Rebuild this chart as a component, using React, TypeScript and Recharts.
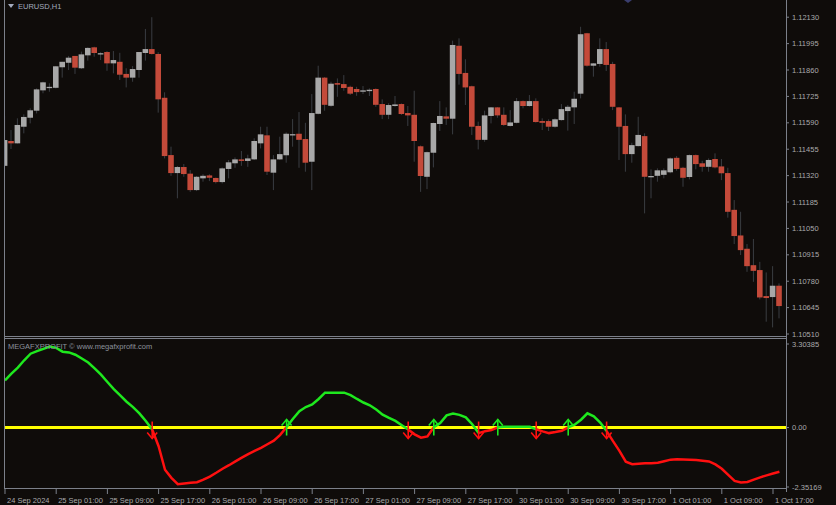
import React from "react";
import {Bar, ComposedChart, Line, ReferenceLine, Scatter, XAxis, YAxis} from "recharts";

// EURUSD H1 candles, 24 Sep 17:00 .. 1 Oct 18:00
const opens = [
    1.11370, 1.11497, 1.11485, 1.11570, 1.11616, 1.11652, 1.11756, 1.11771, 1.11769, 1.11874,
    1.11897, 1.11932, 1.11869, 1.11935, 1.11976, 1.11944, 1.11952, 1.11894, 1.11902, 1.11840,
    1.11821, 1.11860, 1.11947, 1.11967, 1.11942, 1.11718, 1.11425, 1.11333, 1.11364, 1.11330,
    1.11246, 1.11306, 1.11321, 1.11308, 1.11287, 1.11354, 1.11383, 1.11403, 1.11395, 1.11403,
    1.11485, 1.11526, 1.11335, 1.11403, 1.11424, 1.11529, 1.11534, 1.11507, 1.11391, 1.11636,
    1.11821, 1.11677, 1.11793, 1.11788, 1.11774, 1.11763, 1.11749, 1.11752, 1.11763, 1.11686,
    1.11631, 1.11676, 1.11686, 1.11640, 1.11631, 1.11470, 1.11314, 1.11437, 1.11584, 1.11623,
    1.11611, 1.11984, 1.11845, 1.11777, 1.11574, 1.11503, 1.11625, 1.11669, 1.11631, 1.11574,
    1.11590, 1.11701, 1.11676, 1.11701, 1.11599, 1.11599, 1.11570, 1.11604, 1.11650, 1.11669,
    1.11739, 1.12048, 1.11882, 1.11891, 1.11967, 1.11891, 1.11669, 1.11574, 1.11430, 1.11471,
    1.11522, 1.11315, 1.11319, 1.11324, 1.11337, 1.11411, 1.11360, 1.11313, 1.11425, 1.11383,
    1.11365, 1.11405, 1.11367, 1.11333, 1.11145, 1.11014, 1.10946, 1.10862, 1.10837, 1.10704,
    1.10699, 1.10757,
];
const highs = [
    1.11626, 1.11553, 1.11613, 1.11633, 1.11664, 1.11766, 1.11800, 1.11792, 1.11880, 1.11902,
    1.11932, 1.11932, 1.11954, 1.11976, 1.11979, 1.11951, 1.11957, 1.11957, 1.11948, 1.11869,
    1.11880, 1.11952, 1.12070, 1.12130, 1.11951, 1.11746, 1.11468, 1.11369, 1.11379, 1.11348,
    1.11318, 1.11327, 1.11327, 1.11310, 1.11362, 1.11400, 1.11413, 1.11446, 1.11427, 1.11511,
    1.11570, 1.11570, 1.11425, 1.11519, 1.11541, 1.11609, 1.11645, 1.11590, 1.11737, 1.11882,
    1.11824, 1.11800, 1.11817, 1.11834, 1.11780, 1.11774, 1.11778, 1.11766, 1.11766, 1.11710,
    1.11690, 1.11727, 1.11689, 1.11676, 1.11754, 1.11474, 1.11443, 1.11591, 1.11701, 1.11669,
    1.12010, 1.12022, 1.11915, 1.11780, 1.11596, 1.11652, 1.11671, 1.11671, 1.11669, 1.11655,
    1.11717, 1.11704, 1.11732, 1.11715, 1.11613, 1.11608, 1.11613, 1.11686, 1.11681, 1.11749,
    1.12081, 1.12050, 1.11896, 1.12022, 1.12003, 1.11902, 1.11671, 1.11633, 1.11488, 1.11621,
    1.11536, 1.11352, 1.11357, 1.11357, 1.11413, 1.11420, 1.11365, 1.11428, 1.11428, 1.11396,
    1.11408, 1.11434, 1.11405, 1.11360, 1.11195, 1.11135, 1.10970, 1.10996, 1.10879, 1.10825,
    1.10857, 1.10769,
];
const lows = [
    1.11369, 1.11456, 1.11484, 1.11536, 1.11587, 1.11638, 1.11741, 1.11749, 1.11766, 1.11821,
    1.11860, 1.11840, 1.11865, 1.11908, 1.11928, 1.11911, 1.11856, 1.11843, 1.11809, 1.11771,
    1.11800, 1.11821, 1.11908, 1.11939, 1.11642, 1.11408, 1.11319, 1.11204, 1.11314, 1.11237,
    1.11241, 1.11289, 1.11292, 1.11280, 1.11280, 1.11306, 1.11360, 1.11370, 1.11365, 1.11400,
    1.11459, 1.11323, 1.11246, 1.11400, 1.11386, 1.11468, 1.11360, 1.11340, 1.11246, 1.11633,
    1.11652, 1.11672, 1.11723, 1.11754, 1.11732, 1.11728, 1.11737, 1.11727, 1.11672, 1.11609,
    1.11609, 1.11672, 1.11630, 1.11574, 1.11391, 1.11237, 1.11251, 1.11362, 1.11548, 1.11579,
    1.11531, 1.11785, 1.11681, 1.11528, 1.11454, 1.11493, 1.11587, 1.11616, 1.11574, 1.11571,
    1.11587, 1.11664, 1.11673, 1.11591, 1.11553, 1.11548, 1.11565, 1.11601, 1.11550, 1.11584,
    1.11715, 1.11877, 1.11826, 1.11877, 1.11855, 1.11655, 1.11400, 1.11340, 1.11386, 1.11469,
    1.11127, 1.11204, 1.11289, 1.11306, 1.11332, 1.11345, 1.11263, 1.11301, 1.11352, 1.11340,
    1.11340, 1.11357, 1.11297, 1.11105, 1.10970, 1.10914, 1.10828, 1.10777, 1.10687, 1.10573,
    1.10544, 1.10590,
];
const closes = [
    1.11502, 1.11485, 1.11579, 1.11620, 1.11654, 1.11761, 1.11797, 1.11774, 1.11879, 1.11902,
    1.11923, 1.11872, 1.11940, 1.11973, 1.11947, 1.11946, 1.11894, 1.11911, 1.11836, 1.11821,
    1.11865, 1.11952, 1.11967, 1.11942, 1.11710, 1.11420, 1.11333, 1.11364, 1.11328, 1.11246,
    1.11314, 1.11319, 1.11309, 1.11287, 1.11357, 1.11388, 1.11403, 1.11395, 1.11408, 1.11497,
    1.11531, 1.11340, 1.11403, 1.11430, 1.11534, 1.11532, 1.11503, 1.11386, 1.11640, 1.11821,
    1.11682, 1.11790, 1.11785, 1.11768, 1.11739, 1.11747, 1.11756, 1.11759, 1.11682, 1.11631,
    1.11681, 1.11684, 1.11635, 1.11628, 1.11497, 1.11318, 1.11440, 1.11589, 1.11625, 1.11611,
    1.11988, 1.11840, 1.11771, 1.11570, 1.11503, 1.11628, 1.11669, 1.11628, 1.11579, 1.11592,
    1.11701, 1.11676, 1.11701, 1.11594, 1.11590, 1.11570, 1.11608, 1.11660, 1.11672, 1.11713,
    1.12043, 1.11882, 1.11894, 1.11967, 1.11886, 1.11672, 1.11570, 1.11430, 1.11476, 1.11528,
    1.11314, 1.11318, 1.11347, 1.11347, 1.11408, 1.11354, 1.11309, 1.11425, 1.11379, 1.11365,
    1.11400, 1.11362, 1.11332, 1.11135, 1.11011, 1.10939, 1.10857, 1.10833, 1.10697, 1.10694,
    1.10757, 1.10653,
];

// MEGAFXPROFIT oscillator, one value per bar
const osc = [
    1.87, 2.13, 2.37, 2.66, 2.92, 3.02, 3.11, 3.20, 3.15, 3.00,
    2.97, 2.88, 2.73, 2.57, 2.34, 2.09, 1.80, 1.52, 1.27, 1.02,
    0.81, 0.56, 0.26, -0.08, -0.74, -1.67, -1.99, -2.24, -2.21, -2.18,
    -2.16, -2.06, -1.94, -1.79, -1.63, -1.49, -1.34, -1.19, -1.05, -0.92,
    -0.80, -0.66, -0.52, -0.29, 0.02, 0.35, 0.65, 0.81, 0.91, 1.13,
    1.38, 1.38, 1.38, 1.38, 1.28, 1.13, 0.99, 0.88, 0.71, 0.51,
    0.38, 0.26, 0.09, -0.08, -0.27, -0.40, -0.35, 0.01, 0.18, 0.48,
    0.55, 0.50, 0.40, 0.13, -0.22, -0.15, -0.10, 0.01, 0.03, 0.03,
    0.03, 0.03, 0.03, -0.07, -0.15, -0.22, -0.18, -0.13, 0.01, 0.11,
    0.31, 0.56, 0.44, 0.20, -0.14, -0.54, -0.92, -1.35, -1.45, -1.43,
    -1.41, -1.41, -1.39, -1.33, -1.27, -1.25, -1.26, -1.27, -1.28, -1.31,
    -1.34, -1.46, -1.63, -1.87, -2.11, -2.17, -2.15, -2.06, -1.97, -1.89,
    -1.82, -1.75,
];
const downArrowBars = [23, 63, 74, 83, 94];
const upArrowBars = [44, 67, 77, 88];

const labelBars = [0, 8, 16, 24, 32, 40, 48, 56, 64, 72, 80, 88, 96, 104, 112, 120];
const timeLabels = [
    "24 Sep 2024", "25 Sep 01:00", "25 Sep 09:00", "25 Sep 17:00", "26 Sep 01:00", "26 Sep 09:00",
    "26 Sep 17:00", "27 Sep 01:00", "27 Sep 09:00", "27 Sep 17:00", "30 Sep 01:00", "30 Sep 09:00",
    "30 Sep 17:00", "1 Oct 01:00", "1 Oct 09:00", "1 Oct 17:00",
];
const priceTicks = [1.1213, 1.11995, 1.1186, 1.11725, 1.1159, 1.11455, 1.1132, 1.11185, 1.1105, 1.10915, 1.1078, 1.10645, 1.1051];
const oscTicks = [3.30385, 0, -2.35169];

const BG = "#0f0c0a";
const BULL = "#a8a8a8";
const BEAR = "#c44a3a";
const WICK = "#3a3d42";
const GREEN = "#1ee81e";
const RED = "#ff1010";
const FRAME = "#7c808a";
const TXT = "#aaaaaa";
const FONT = "'Liberation Sans', Arial, sans-serif";
const X_DOMAIN = [-0.156, 122.03];

const candles = opens.map((o, i) => ({
    bar: i, o, h: highs[i], l: lows[i], c: closes[i], range: [lows[i], highs[i]],
}));
const oscData = osc.map((v, i) => ({
    bar: i,
    up: v >= 0 || (i > 0 && osc[i - 1] >= 0) ? v : null,
    dn: v < 0 || (i > 0 && osc[i - 1] < 0) ? v : null,
}));
const downArrows = downArrowBars.map(b => ({bar: b, v: 0}));
const upArrows = upArrowBars.map(b => ({bar: b, v: 0}));

function Candle(props: any) {
    const {x, y, width, height} = props;
    const d = props.payload || props;
    if (x == null || y == null) return null;
    const top = Math.min(y, y + height);
    const span = Math.abs(height);
    const py = (v: number) => top + ((d.h - v) / (d.h - d.l)) * span;
    const cx = x + width / 2;
    const bTop = py(Math.max(d.o, d.c));
    const bh = Math.max(py(Math.min(d.o, d.c)) - bTop, 1.3);
    return (
        <g>
            <line x1={cx} x2={cx} y1={top} y2={top + span} stroke={WICK} strokeWidth={1}/>
            <rect x={x} y={bTop} width={width} height={bh} fill={d.c >= d.o ? BULL : BEAR}/>
        </g>
    );
}

function DownArrow(p: any) {
    const {cx, cy} = p;
    return (
        <g stroke={RED} strokeWidth={1.6} fill="none">
            <line x1={cx} y1={cy - 6} x2={cx} y2={cy + 11}/>
            <polyline points={`${cx - 5},${cy + 5} ${cx},${cy + 11} ${cx + 5},${cy + 5}`}/>
        </g>
    );
}

function UpArrow(p: any) {
    const {cx, cy} = p;
    return (
        <g stroke={GREEN} strokeWidth={1.6} fill="none">
            <line x1={cx} y1={cy - 8} x2={cx} y2={cy + 8}/>
            <polyline points={`${cx - 5},${cy - 2} ${cx},${cy - 8} ${cx + 5},${cy - 2}`}/>
        </g>
    );
}

function TimeTick(p: any) {
    const {x, y, payload} = p;
    const label = timeLabels[labelBars.indexOf(payload.value)];
    return (
        <g>
            <line x1={x} x2={x} y1={y - 6} y2={y - 1} stroke={FRAME}/>
            <text x={x + 2} y={y + 8} fill={TXT} fontSize={7.5} fontFamily={FONT}>{label}</text>
        </g>
    );
}

const yTick = {fill: TXT, fontSize: 7.5, fontFamily: FONT};

export default function App() {
    return (
        <div style={{position: "absolute", left: 0, top: 0, width: 836, height: 505, background: BG, overflow: "hidden"}}>
            <div style={{position: "absolute", left: 0, top: 0}}>
                <ComposedChart width={836} height={346} data={candles} margin={{top: 0, right: 0, bottom: 11, left: 4}}>
                    <XAxis type="number" dataKey="bar" domain={X_DOMAIN} allowDataOverflow hide/>
                    <YAxis orientation="right" width={50} domain={[1.10505, 1.12218]} allowDataOverflow
                           ticks={priceTicks} interval={0} tickFormatter={(v: number) => v.toFixed(5)}
                           axisLine={false} tickLine={{stroke: FRAME}} tickSize={3} tickMargin={3} tick={yTick}/>
                    <Bar dataKey="range" barSize={5.6} shape={(p: any) => <Candle {...p}/>} isAnimationActive={false}/>
                </ComposedChart>
            </div>
            <div style={{position: "absolute", left: 0, top: 338}}>
                <ComposedChart width={836} height={167} data={oscData} margin={{top: 6, right: 0, bottom: 0, left: 4}}>
                    <XAxis type="number" dataKey="bar" domain={X_DOMAIN} allowDataOverflow ticks={labelBars}
                           interval={0} axisLine={false} tickLine={false} height={18} tick={<TimeTick/>}/>
                    <YAxis orientation="right" width={50} domain={[-2.35169, 3.30385]} allowDataOverflow
                           ticks={oscTicks} interval={0}
                           tickFormatter={(v: number) => (v === 0 ? "0.00" : v.toFixed(5))}
                           axisLine={false} tickLine={{stroke: FRAME}} tickSize={3} tickMargin={3} tick={yTick}/>
                    <ReferenceLine y={0} stroke="#ffff00" strokeWidth={3}
                                   segment={[{x: X_DOMAIN[0], y: 0}, {x: 121.4, y: 0}]}/>
                    <Line dataKey="dn" stroke={RED} strokeWidth={2.5} dot={false} isAnimationActive={false}/>
                    <Line dataKey="up" stroke={GREEN} strokeWidth={2.5} dot={false} isAnimationActive={false}/>
                    <Scatter data={downArrows} dataKey="v" shape={(p: any) => <DownArrow {...p}/>} isAnimationActive={false}/>
                    <Scatter data={upArrows} dataKey="v" shape={(p: any) => <UpArrow {...p}/>} isAnimationActive={false}/>
                </ComposedChart>
            </div>
            <svg width={836} height={505} style={{position: "absolute", left: 0, top: 0, pointerEvents: "none"}}>
                <line x1={4.5} x2={4.5} y1={0} y2={489} stroke={FRAME}/>
                <line x1={786.5} x2={786.5} y1={0} y2={492} stroke={FRAME}/>
                <line x1={4} x2={787} y1={336.5} y2={336.5} stroke={FRAME}/>
                <line x1={4} x2={787} y1={338.5} y2={338.5} stroke={FRAME}/>
                <line x1={4} x2={787} y1={488.5} y2={488.5} stroke={FRAME}/>
                <polygon points="624,0 628,3 632,0" fill="#3a3e6e"/>
                <polygon points="8,4 14,4 11,8" fill="#a4abbe"/>
                <text x={18} y={8.5} fill="#a4abbe" fontSize={7.5} fontFamily={FONT}>EURUSD,H1</text>
                <text x={8} y={348.5} fill="#8c919c" fontSize={7.5} fontFamily={FONT}>MEGAFXPROFIT © www.megafxprofit.com</text>
            </svg>
        </div>
    );
}
